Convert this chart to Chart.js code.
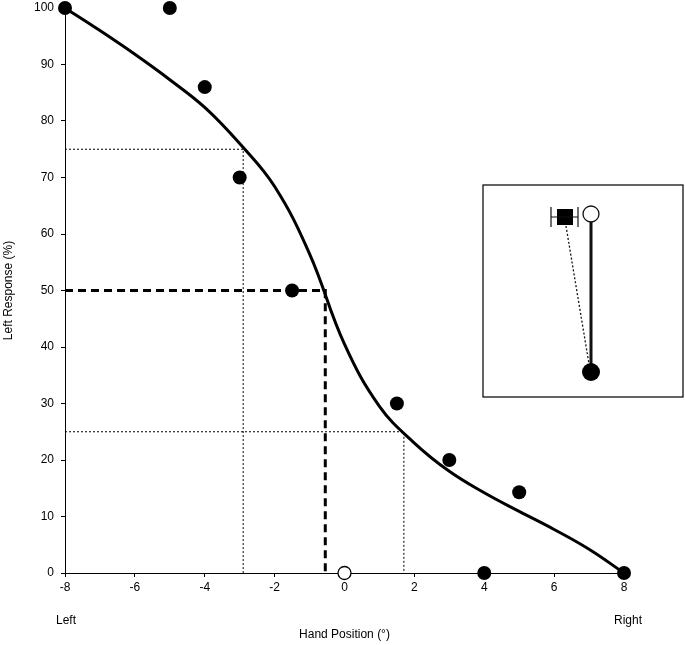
<!DOCTYPE html>
<html>
<head>
<meta charset="utf-8">
<script src="https://cdn.jsdelivr.net/npm/chart.js@4/dist/chart.umd.min.js"></script>
<style>
  html, body { margin: 0; padding: 0; background: #fff; }
  canvas { display: block; }
</style>
</head>
<body>
<canvas id="c" width="685" height="645"></canvas>
<script>
// ---- data ----
const handPosition = [-8, -5, -4, -3, -1.5, 1.5, 3, 4, 5, 8];
const leftResponse = [100, 100, 86, 70, 50, 30, 20, 0, 14.3, 0];
const openPosition = [0];
const openResponse = [0];
const curveX = [-8, -7, -6, -5, -4, -3, -2, -1, 0, 1, 2, 3, 4, 5, 6, 7, 8];
const curveY = [100, 96, 91.8, 87.3, 82.4, 76, 68.4, 56.5, 40.5, 29.5, 23, 18, 14.2, 10.9, 7.7, 4.2, 0];
const guideLevels = [75, 50, 25];
const guideCrossings = [-2.9, -0.55, 1.7];
const xMin = -8, xMax = 8, xStep = 2;
const yMin = 0, yMax = 100, yStep = 10;
const endLabels = ['Left', 'Right'];

const FONT = "'Liberation Sans', Arial, sans-serif";
const pts = (xs, ys) => xs.map((x, i) => ({x, y: ys[i]}));
const guide = (i) => [{x: xMin, y: guideLevels[i]}, {x: guideCrossings[i], y: guideLevels[i]}, {x: guideCrossings[i], y: yMin}];

const overlay = {
  id: 'overlay',
  afterDraw(chart) {
    const ctx = chart.ctx;
    const xs = chart.scales.x;
    ctx.save();
    ctx.fillStyle = '#000';
    ctx.font = '12px ' + FONT;
    ctx.textAlign = 'center';
    ctx.textBaseline = 'middle';
    ctx.fillText(endLabels[0], xs.getPixelForValue(xMin) + 1, 621);
    ctx.fillText(endLabels[1], xs.getPixelForValue(xMax) + 4, 621);

    // inset schematic
    ctx.strokeStyle = '#111';
    ctx.lineWidth = 1.3;
    ctx.strokeRect(483, 185, 200, 212);
    ctx.setLineDash([2, 2]);
    ctx.lineWidth = 1.3;
    ctx.beginPath();
    ctx.moveTo(566, 226);
    ctx.lineTo(589, 364);
    ctx.stroke();
    ctx.setLineDash([]);
    ctx.lineWidth = 3;
    ctx.beginPath();
    ctx.moveTo(591, 222);
    ctx.lineTo(591, 370);
    ctx.stroke();
    ctx.fillStyle = '#000';
    ctx.fillRect(557, 209, 16, 16);
    ctx.lineWidth = 1.2;
    ctx.beginPath();
    ctx.moveTo(551, 217); ctx.lineTo(578, 217);
    ctx.moveTo(551, 207); ctx.lineTo(551, 227);
    ctx.moveTo(578, 207); ctx.lineTo(578, 227);
    ctx.stroke();
    ctx.fillStyle = '#fff';
    ctx.lineWidth = 1.3;
    ctx.beginPath();
    ctx.arc(591, 214, 8, 0, Math.PI * 2);
    ctx.fill();
    ctx.stroke();
    ctx.fillStyle = '#000';
    ctx.beginPath();
    ctx.arc(591, 372, 9, 0, Math.PI * 2);
    ctx.fill();
    ctx.restore();
  }
};

new Chart(document.getElementById('c'), {
  type: 'scatter',
  data: {
    datasets: [
      { data: guide(0), showLine: true, borderColor: '#000', borderWidth: 1, borderDash: [2, 2], pointRadius: 0, order: 5 },
      { data: guide(2), showLine: true, borderColor: '#000', borderWidth: 1, borderDash: [2, 2], pointRadius: 0, order: 5 },
      { data: guide(1), showLine: true, borderColor: '#000', borderWidth: 3, borderDash: [8, 5], pointRadius: 0, order: 4 },
      { data: pts(curveX, curveY), showLine: true, borderColor: '#000', borderWidth: 3, pointRadius: 0, tension: 0.4, order: 3 },
      { data: pts(handPosition, leftResponse), showLine: false, pointRadius: 7, pointBackgroundColor: '#000', pointBorderColor: '#000', pointBorderWidth: 0, order: 1 },
      { data: pts(openPosition, openResponse), showLine: false, pointRadius: 6.5, pointBackgroundColor: '#fff', pointBorderColor: '#000', pointBorderWidth: 1.3, order: 1 }
    ]
  },
  options: {
    responsive: false,
    animation: false,
    devicePixelRatio: 1,
    clip: false,
    layout: { autoPadding: false, padding: { top: 8, right: 61, left: 0, bottom: 0 } },
    plugins: { legend: { display: false }, tooltip: { enabled: false } },
    elements: { point: { hoverRadius: 7 } },
    scales: {
      x: {
        type: 'linear', min: xMin, max: xMax,
        ticks: { stepSize: xStep, color: '#000', font: { family: FONT, size: 12 }, padding: 3, maxRotation: 0 },
        grid: { drawOnChartArea: false, drawTicks: true, tickLength: 4, color: '#000' },
        border: { color: '#000', width: 1 },
        title: { display: true, text: 'Hand Position (°)', color: '#000', font: { family: FONT, size: 12 }, padding: { top: 0, bottom: 3 } },
        afterFit(s) { s.height = 72; s.paddingLeft = 0; s.paddingRight = 0; }
      },
      y: {
        type: 'linear', min: yMin, max: yMax,
        ticks: { stepSize: yStep, color: '#000', font: { family: FONT, size: 12 }, padding: 7 },
        grid: { drawOnChartArea: false, drawTicks: true, tickLength: 4, color: '#000' },
        border: { color: '#000', width: 1 },
        title: { display: true, text: 'Left Response (%)', color: '#000', font: { family: FONT, size: 12 }, padding: { top: 1, bottom: 0 } },
        afterFit(s) { s.width = 65; s.paddingTop = 0; s.paddingBottom = 0; }
      }
    }
  },
  plugins: [overlay]
});
</script>
</body>
</html>
